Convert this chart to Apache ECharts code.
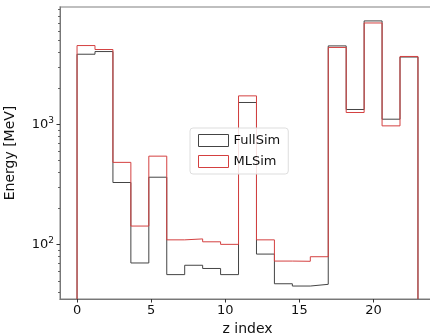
<!DOCTYPE html>
<html>
<head>
<meta charset="utf-8">
<script src="https://cdn.jsdelivr.net/npm/echarts@6/dist/echarts.min.js"></script>
<style>
  html, body { margin: 0; padding: 0; background: #fff; }
  #chart { width: 430px; height: 335px; }
</style>
</head>
<body>
<div id="chart"></div>
<script>
// histogram of energy per z layer, 19 bins over z in [0, 23]
const zMax = 23;
const nBins = 19;
const fullSim = [3820, 4020, 327, 70, 362, 56, 67, 63, 56, 1515, 83, 47, 45, 46.5, 4480, 1325, 7230, 1100, 3620];
const mlSim = [4510, 4180, 481, 142, 542, 109, 111, 105, 100, 1720, 109, 72.6, 72.3, 78.9, 4350, 1251, 6950, 968, 3660];
const xTicks = [0, 5, 10, 15, 20];
const yMinorTicks = [40, 50, 60, 70, 80, 90, 200, 300, 400, 500, 600, 700, 800, 900, 2000, 3000, 4000, 5000, 6000, 7000, 8000, 9000];

const yMin = 35.1, yMax = 9440;
const xMin = -1.15, xMax = 24.15;

const edges = [];
for (let i = 0; i <= nBins; i++) edges.push(i * zMax / nBins);

// outline of a step histogram, from the bottom up and back down
function stepData(vals) {
  const d = [[edges[0], yMin]];
  vals.forEach((v, i) => d.push([edges[i], v]));
  d.push([edges[nBins], vals[nBins - 1]]);
  d.push([edges[nBins], yMin]);
  return d;
}

const blackCol = '#444444';
const redCol = '#d44040';
const axisCol = '#ababab';
const font = 'DejaVu Sans';

const chart = echarts.init(document.getElementById('chart'), null, { renderer: 'canvas' });

chart.setOption({
  animation: false,
  textStyle: { fontFamily: font },
  grid: {
    left: 60, right: -5, top: 7, bottom: 36,
    outerBoundsMode: 'none', containLabel: false,
    show: true, borderColor: axisCol, borderWidth: 1.5
  },
  legend: {
    orient: 'vertical',
    left: 190, top: 128,
    icon: 'rect',
    itemWidth: 30, itemHeight: 12,
    itemGap: 8,
    padding: [6, 8, 6, 8],
    backgroundColor: 'rgba(255,255,255,0.85)',
    borderColor: '#dddddd', borderWidth: 1, borderRadius: 3,
    textStyle: { fontFamily: font, fontSize: 13, color: '#111' },
    data: [
      { name: 'FullSim', itemStyle: { color: '#fff', borderColor: blackCol, borderWidth: 1 }, lineStyle: { opacity: 0 } },
      { name: 'MLSim', itemStyle: { color: '#fff', borderColor: redCol, borderWidth: 1 }, lineStyle: { opacity: 0 } }
    ]
  },
  xAxis: {
    type: 'value', min: xMin, max: xMax,
    name: 'z index', nameLocation: 'middle', nameGap: 20,
    nameTextStyle: { fontFamily: font, fontSize: 14, color: '#111' },
    splitLine: { show: false },
    axisLine: { show: true, onZero: false, lineStyle: { color: '#777', width: 1 } },
    axisTick: { show: true, length: 3.5, lineStyle: { color: '#333' }, customValues: xTicks },
    axisLabel: { fontSize: 13, color: '#111', margin: 5, customValues: xTicks }
  },
  yAxis: {
    type: 'log', logBase: 10, min: yMin, max: yMax,
    name: 'Energy [MeV]', nameLocation: 'middle', nameGap: 43,
    nameTextStyle: { fontFamily: font, fontSize: 14, color: '#111' },
    splitLine: { show: false },
    axisLine: { show: true, onZero: false, lineStyle: { color: '#777', width: 1 } },
    axisTick: { show: true, length: 3.5, lineStyle: { color: '#333' }, customValues: [100, 1000] },
    axisLabel: {
      color: '#111', margin: 6, customValues: [100, 1000],
      formatter: v => {
        const e = Math.round(Math.log10(v));
        return '{b|10}{s|' + e + '}';
      },
      rich: {
        b: { fontSize: 13, fontFamily: font, color: '#111' },
        s: { fontSize: 9, fontFamily: font, color: '#111', verticalAlign: 'top', padding: [0, 0, 7, 0] }
      }
    }
  },
  series: [
    {
      name: 'FullSim', type: 'line', step: 'end', symbol: 'none',
      data: stepData(fullSim),
      lineStyle: { color: blackCol, width: 1 }, itemStyle: { color: blackCol },
      z: 2
    },
    {
      name: 'MLSim', type: 'line', step: 'end', symbol: 'none',
      data: stepData(mlSim),
      lineStyle: { color: redCol, width: 1 }, itemStyle: { color: redCol },
      z: 3
    },
    {
      // minor ticks of the log axis
      type: 'custom', silent: true, clip: false, z: 1,
      data: yMinorTicks.map(v => [xMin, v]),
      renderItem: (params, api) => {
        const p = api.coord([api.value(0), api.value(1)]);
        return {
          type: 'line',
          shape: { x1: p[0] - 2, y1: Math.round(p[1]) + 0.5, x2: p[0], y2: Math.round(p[1]) + 0.5 },
          style: { stroke: '#444', lineWidth: 0.8 }
        };
      }
    }
  ]
});
</script>
</body>
</html>
